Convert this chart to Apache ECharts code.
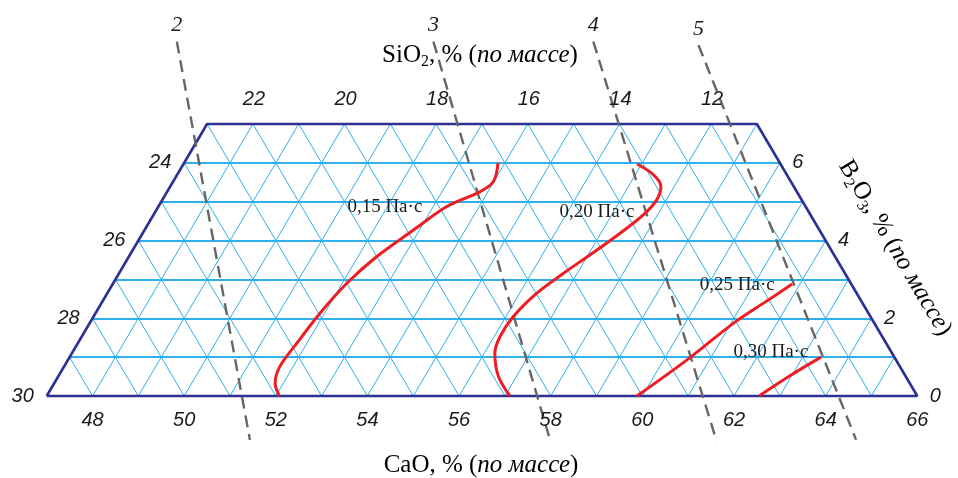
<!DOCTYPE html>
<html><head><meta charset="utf-8">
<script src="https://cdn.jsdelivr.net/npm/echarts@6/dist/echarts.min.js"></script>
<style>html,body{margin:0;padding:0;background:#fff}#c{width:958px;height:478px}</style>
</head><body><div id="c"></div>
<script>
// ================= DATA =================
// Composition: CaO + SiO2 + B2O3 = 77 (rest fixed)
const TOTAL = 77;
const caoTicks = [48, 50, 52, 54, 56, 58, 60, 62, 64, 66];
const sio2TopTicks = [22, 20, 18, 16, 14, 12];
const sio2LeftTicks = [30, 28, 26, 24];
const b2o3Ticks = [0, 2, 4, 6];
// diagram limits
const caoMin = 47, sio2Min = 11, b2o3Max = 7;

// iso-viscosity curves: [CaO %, B2O3 %]
const iso015 = [[52.08,0],[51.82,0.33],[51.71,0.75],[51.78,1.36],[51.90,2.13],[52.10,2.90],[52.41,3.59],[52.87,4.27],[53.29,4.87],[53.83,5.26],[53.99,5.52],[53.85,6.00]];
const iso020 = [[57.11,0],[56.61,0.50],[56.23,1.10],[56.13,1.53],[56.16,2.04],[56.37,2.64],[56.70,3.16],[57.04,3.63],[57.42,4.19],[57.69,4.66],[57.79,5.04],[57.71,5.39],[57.40,5.69],[56.90,5.97]];
const iso025 = [[59.88,0],[60.51,0.93],[61.05,1.87],[61.45,2.39],[61.83,2.88]];
const iso030 = [[62.55,0],[62.96,0.52],[63.40,1.00]];
const isoNames = ['0,15 Па·с', '0,20 Па·с', '0,25 Па·с', '0,30 Па·с'];

// dashed lines 2..5: endpoints [CaO %, B2O3 %]
const dash2 = [[45.28, 9.12], [52.00, -1.13]];
const dash3 = [[50.88, 9.12], [58.55, -1.13]];
const dash4 = [[54.37, 9.12], [62.20, -1.16]];
const dash5 = [[56.71, 9.03], [65.23, -1.13]];
const dashNames = ['2', '3', '4', '5'];

// ================= LAYOUT =================
const W = 958, H = 478;
const X0 = 46.7, XSTEP = 45.82;   // pixel of CaO 47 at B=0, px per 1 %
const Y0 = 396, YSTEP = 38.86;    // pixel of B2O3 0, px per 1 %
const xMin = caoMin - X0 / XSTEP, xMax = xMin + W / XSTEP;
const yMin = -(H - Y0) / YSTEP, yMax = Y0 / YSTEP;

// ternary projection: (CaO, B2O3) -> cartesian (u, B)
const P = (c, b) => [c + b / 2, b];
const PP = arr => arr.map(p => P(p[0], p[1]));

const gridColor = '#30b0ea', edgeColor = '#2e3192', red = '#ee1d23', dashColor = '#666666';
const ink = '#1a1a1a';
const serif = '"Liberation Serif", "Times New Roman", serif';
const sans = '"Liberation Sans", Arial, sans-serif';

// grid lines
const hLines = [], dLines = [];
for (let b = 1; b < b2o3Max; b++) hLines.push({coords: [P(caoMin, b), P(TOTAL - sio2Min - b, b)]});
for (let c = caoMin + 1; c < TOTAL - sio2Min; c++) {
  const bEnd = Math.min(b2o3Max, TOTAL - sio2Min - c);
  dLines.push({coords: [P(c, 0), P(c, bEnd)]});
}
for (let s = sio2Min + 1; s < TOTAL - caoMin; s++) {
  const bEnd = Math.min(b2o3Max, TOTAL - caoMin - s);
  dLines.push({coords: [P(TOTAL - s, 0), P(TOTAL - s - bEnd, bEnd)]});
}
const edge = PP([[caoMin,0],[TOTAL - sio2Min,0],[TOTAL - sio2Min - b2o3Max,b2o3Max],[caoMin,b2o3Max],[caoMin,0]]);

const hidden = {color: 'rgba(0,0,0,0)', opacity: 1};
const tickFont = {fontFamily: sans, fontStyle: 'italic', fontSize: 20, color: ink};
function labelSeries(items, offset) {
  return {
    type: 'scatter', symbolSize: 1, itemStyle: hidden, silent: true, clip: false, z: 6,
    data: items.map(it => ({value: it.p, name: it.t})),
    label: Object.assign({show: true, position: 'inside', offset: offset, formatter: '{b}'}, tickFont)
  };
}

const isoData = [iso015, iso020, iso025, iso030];
const isoLabelAt = [[51.95, 4.86], [56.64, 4.74], [60.64, 2.86], [62.24, 1.13]];
const dashData = [dash2, dash3, dash4, dash5];

const series = [
  {type: 'lines', coordinateSystem: 'cartesian2d', silent: true, polyline: false,
   lineStyle: {color: gridColor, width: 1.8, opacity: 1}, data: hLines, z: 1},
  {type: 'lines', coordinateSystem: 'cartesian2d', silent: true, polyline: false,
   lineStyle: {color: gridColor, width: 1, opacity: 1}, data: dLines, z: 1},
  {type: 'line', data: edge, showSymbol: false, silent: true, clip: false,
   lineStyle: {color: edgeColor, width: 2.6}, z: 3},
];
dashData.forEach((d, i) => series.push({
  type: 'line', data: PP(d), showSymbol: false, silent: true, clip: false,
  lineStyle: {color: dashColor, width: 2.4, type: [12, 7]}, z: 4
}));
dashData.forEach((d, i) => series.push({
  type: 'scatter', symbolSize: 1, itemStyle: hidden, silent: true, clip: false,
  data: [{value: P(d[0][0], d[0][1]), name: dashNames[i]}],
  label: {show: true, position: 'inside', offset: [0, -16], formatter: '{b}', fontFamily: serif, fontStyle: 'italic', fontSize: 22, color: ink}, z: 6
}));
isoData.forEach((d, i) => series.push({
  type: 'line', data: PP(d), showSymbol: false, silent: true, clip: false, smooth: 0.35,
  lineStyle: {color: red, width: 3}, z: 5
}));
series.push({
  type: 'scatter', symbolSize: 1, itemStyle: hidden, silent: true, clip: false,
  data: isoLabelAt.map((p, i) => ({value: P(p[0], p[1]), name: isoNames[i]})),
  label: {show: true, position: 'inside', formatter: '{b}', fontFamily: serif, fontSize: 19, color: ink}, z: 6
});
series.push(labelSeries(caoTicks.map(c => ({p: P(c, 0), t: String(c)})), [0, 24]));
series.push(labelSeries(sio2TopTicks.map(s => ({p: P(TOTAL - s - b2o3Max, b2o3Max), t: String(s)})), [1, -24.5]));
series.push(labelSeries(sio2LeftTicks.map(s => ({p: P(caoMin, TOTAL - caoMin - s), t: String(s)})), [-24, 0]));
series.push(labelSeries(b2o3Ticks.map(b => ({p: P(TOTAL - sio2Min - b, b), t: String(b)})), [18, 0]));

const titleRich = {
  n: {fontFamily: serif, fontSize: 25, lineHeight: 30, verticalAlign: 'middle', color: ink},
  s: {fontFamily: serif, fontSize: 16, lineHeight: 15, verticalAlign: 'bottom', color: ink},
  i: {fontFamily: serif, fontSize: 25, fontStyle: 'italic', lineHeight: 30, verticalAlign: 'middle', color: ink}
};

const chart = echarts.init(document.getElementById('c'), null, {renderer: 'canvas'});
chart.setOption({
  animation: false,
  backgroundColor: '#fff',
  grid: {left: 0, right: 0, top: 0, bottom: 0},
  xAxis: {type: 'value', min: xMin, max: xMax, show: false},
  yAxis: {type: 'value', min: yMin, max: yMax, show: false},
  series: series,
  graphic: [
    {type: 'text', x: 480, y: 55, style: {text: '{n|SiO}{s|2}{n|, % (}{i|по массе}{n|)}', rich: titleRich, align: 'center', verticalAlign: 'middle'}},
    {type: 'text', x: 481, y: 465, style: {text: '{n|CaO, % (}{i|по массе}{n|)}', rich: titleRich, align: 'center', verticalAlign: 'middle'}},
    {type: 'text', x: 895, y: 248, rotation: -59.4 * Math.PI / 180, style: {text: '{n|B}{s|2}{n|O}{s|3}{n|, % (}{i|по массе}{n|)}', rich: titleRich, align: 'center', verticalAlign: 'middle'}}
  ]
});
</script></body></html>
